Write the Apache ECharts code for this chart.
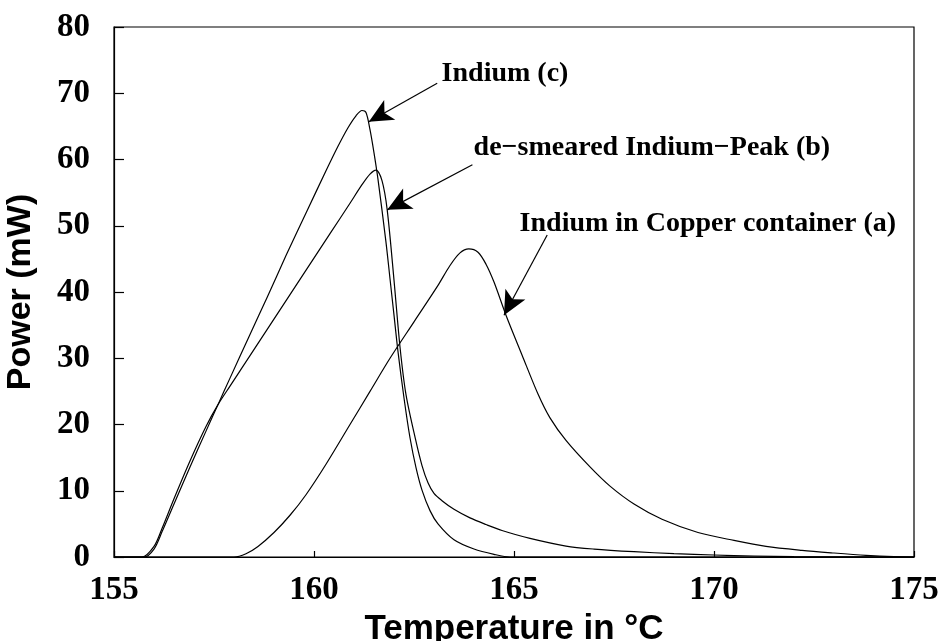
<!DOCTYPE html>
<html>
<head>
<meta charset="utf-8">
<script src="https://cdn.jsdelivr.net/npm/echarts@6/dist/echarts.min.js"></script>
<style>
html,body{margin:0;padding:0;background:#fff;}
#chart{width:941px;height:641px;}
</style>
</head>
<body>
<div id="chart"></div>
<script>
// Curve (a): Indium in Copper container
var aTemp  = [155, 158.0, 158.3, 158.6, 159.0, 159.4, 159.8, 160.3, 160.9, 161.4, 161.9, 162.5, 163.1, 163.4, 163.65, 163.87, 164.1, 164.3, 164.5, 164.8, 165.2, 165.6, 165.9, 166.3, 166.9, 167.4, 168.0, 168.7, 169.6, 170.5, 171.3, 172.2, 173.0, 173.8, 174.5, 175];
var aPower = [0, 0, 0.5, 1.6, 3.7, 6.3, 9.4, 14.0, 20.0, 25.0, 30.0, 35.5, 41.0, 44.0, 45.9, 46.5, 46.0, 44.2, 41.5, 36.5, 30.5, 24.6, 21.0, 17.6, 13.6, 10.7, 8.0, 5.7, 3.7, 2.5, 1.6, 1.0, 0.6, 0.25, 0.05, 0];
// Curve (b): de-smeared Indium-Peak
var bTemp  = [155, 155.7, 156.0, 156.2, 156.5, 156.9, 157.3, 157.6, 157.9, 158.4, 158.9, 159.4, 159.9, 160.4, 160.9, 161.2, 161.4, 161.55, 161.7, 161.83, 162.0, 162.15, 162.3, 162.54, 162.7, 162.85, 163.0, 163.2, 163.5, 163.9, 164.3, 164.7, 165.4, 166.3, 167.0, 168.0, 169.0, 170.0, 171.0, 172.0, 175];
var bPower = [0, 0, 1.6, 4.3, 8.8, 14.5, 19.7, 23.0, 25.8, 30.4, 35.0, 39.6, 44.2, 48.8, 53.4, 56.2, 57.8, 58.4, 56.8, 52.4, 41.8, 31.7, 24.5, 17.7, 13.8, 11.2, 9.6, 8.5, 7.2, 5.9, 4.9, 4.0, 2.8, 1.65, 1.2, 0.8, 0.5, 0.3, 0.15, 0.05, 0];
// Curve (c): Indium
var cTemp  = [155, 155.75, 156.0, 156.2, 156.5, 156.9, 157.3, 157.6, 157.9, 158.4, 158.83, 159.3, 159.83, 160.3, 160.6, 160.85, 161.05, 161.2, 161.3, 161.4, 161.5, 161.6, 161.8, 161.9, 162.0, 162.1, 162.25, 162.4, 162.55, 162.7, 162.9, 163.1, 163.5, 164.0, 164.5, 164.9, 175];
var cPower = [0, 0, 1.2, 3.8, 8.0, 13.6, 19.0, 23.0, 27.0, 33.6, 39.2, 45.5, 52.3, 58.3, 62.0, 64.8, 66.6, 67.4, 67.1, 64.5, 61.0, 57.0, 47.5, 42.0, 36.5, 31.0, 24.0, 18.0, 13.5, 10.1, 7.0, 5.0, 2.6, 1.2, 0.4, 0, 0];

// Tick values
var xTicks = [155, 160, 165, 170, 175];
var yTicks = [0, 10, 20, 30, 40, 50, 60, 70, 80];

// Annotation labels and arrows (start -> tip, data units)
var labelTexts = ['Indium (c)', 'de\u2212smeared Indium\u2212Peak (b)', 'Indium in Copper container (a)'];
var labelAnchors = [[163.19, 72.9], [163.99, 61.7], [165.14, 50.3]];
var arrowStarts = [[163.08, 71.5], [163.96, 59.2], [165.83, 48.6]];
var arrowTips = [[161.37, 65.7], [161.83, 52.4], [164.75, 36.5]];

function zip(xs, ys) { return xs.map(function (x, i) { return [x, ys[i]]; }); }

var serifBold = { fontFamily: 'Liberation Serif', fontWeight: 'bold', color: '#000' };
var lineStyle = { color: '#000', width: 1.2 };

function curve(name, xs, ys) {
  return {
    name: name, type: 'line', data: zip(xs, ys), showSymbol: false, symbol: 'none',
    smooth: 0.3, lineStyle: lineStyle, silent: true, z: 3
  };
}

var chart = echarts.init(document.getElementById('chart'), null, { renderer: 'canvas' });
chart.setOption({
  animation: false,
  backgroundColor: '#fff',
  grid: { left: 114, right: 27, top: 27, bottom: 84, outerBoundsMode: 'none', containLabel: false, show: true, borderColor: '#000', borderWidth: 1.2, backgroundColor: 'transparent' },
  xAxis: {
    type: 'value', min: xTicks[0], max: xTicks[xTicks.length - 1], interval: 5,
    name: 'Temperature in \u00B0C', nameLocation: 'middle', nameGap: 45,
    nameTextStyle: { fontFamily: 'Liberation Sans', fontWeight: 'bold', fontSize: 35, color: '#000' },
    axisLine: { show: true, lineStyle: { color: '#000', width: 1.2 } },
    axisTick: { show: true, inside: true, length: 6, lineStyle: { color: '#000', width: 1.2 } },
    axisLabel: Object.assign({ fontSize: 33, margin: 17 }, serifBold),
    splitLine: { show: false }
  },
  yAxis: {
    type: 'value', min: yTicks[0], max: yTicks[yTicks.length - 1], interval: 10,
    name: 'Power (mW)', nameLocation: 'middle', nameGap: 76,
    nameTextStyle: { fontFamily: 'Liberation Sans', fontWeight: 'bold', fontSize: 34, color: '#000' },
    axisLine: { show: true, lineStyle: { color: '#000', width: 1.2 } },
    axisTick: { show: true, inside: true, length: 10, lineStyle: { color: '#000', width: 1.2 } },
    axisLabel: Object.assign({ fontSize: 33, margin: 24 }, serifBold),
    splitLine: { show: false }
  },
  series: [
    curve('Indium in Copper container (a)', aTemp, aPower),
    curve('de-smeared Indium-Peak (b)', bTemp, bPower),
    curve('Indium (c)', cTemp, cPower),
    {
      name: 'annotations', type: 'line', data: [], silent: true,
      markLine: {
        silent: true, animation: false,
        symbol: ['none', 'arrow'], symbolSize: [17, 24],
        lineStyle: { color: '#000', width: 1.2, type: 'solid' },
        label: { show: false },
        data: arrowStarts.map(function (s, i) {
          return [{ coord: s }, { coord: arrowTips[i] }];
        })
      },
      markPoint: {
        silent: true, animation: false, symbol: 'circle', symbolSize: 0,
        itemStyle: { color: 'transparent' },
        label: Object.assign({ show: true, position: 'right', distance: 0, fontSize: 28, formatter: function (p) { return p.name; } }, serifBold),
        data: labelAnchors.map(function (c, i) { return { name: labelTexts[i], coord: c }; })
      }
    }
  ]
});
</script>
</body>
</html>
